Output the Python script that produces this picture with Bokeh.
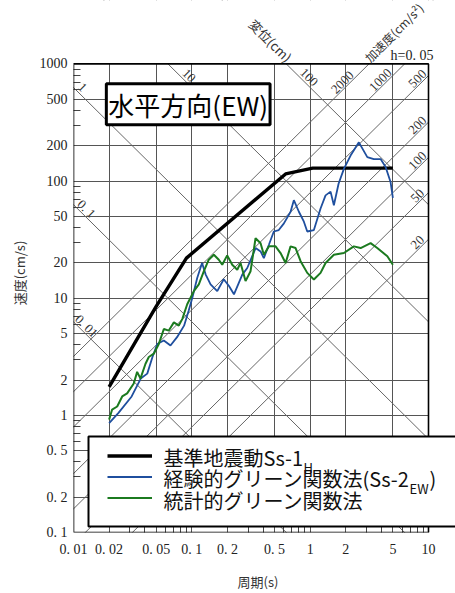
import numpy as np
from bokeh.plotting import figure
from bokeh.models import (FixedTicker, CustomJSTickFormatter, Label, Legend,
                          LegendItem, BoxAnnotation)
from bokeh.core.properties import value
from bokeh.embed import file_html
from bokeh.resources import INLINE

# ---------------- data ----------------
x_ticks = [0.01, 0.02, 0.05, 0.1, 0.2, 0.5, 1, 2, 5, 10]
y_ticks = [0.1, 0.2, 0.5, 1, 2, 5, 10, 20, 50, 100, 200, 500, 1000]
minor_mults = [3, 4, 6, 7, 8, 9]

disp_lines = [0.01, 0.1, 1, 10, 100]                 # cm
acc_lines = [20, 50, 100, 200, 500, 1000, 2000]      # cm/s2

disp_label_values = [1, 10, 100, 0.1, 0.01]
disp_label_text = ["1", "10", "100", "0. 1", "0. 01"]
disp_label_period = [0.0119, 0.0943, 0.975, 0.0129, 0.0129]

acc_label_values = [2000, 1000, 500, 200, 100, 50, 20]
acc_label_text = ["2000", "1000", "500", "200", "100", "50", "20"]
acc_label_period = [1.88, 3.94, 8.09, 8.09, 8.09, 8.09, 8.09]

period_black = [0.02, 0.05, 0.09, 0.62, 1.05, 5.0]
vel_black = [1.75, 8.5, 22.0, 115.0, 129.0, 129.0]

period_blue = [0.020, 0.024, 0.031, 0.037, 0.042, 0.0465, 0.051, 0.058, 0.066,
               0.075, 0.086, 0.094, 0.101, 0.111, 0.122, 0.131, 0.144, 0.164,
               0.186, 0.206, 0.227, 0.250, 0.267, 0.294, 0.346, 0.381, 0.406,
               0.448, 0.493, 0.543, 0.600, 0.683, 0.728, 0.803, 0.885, 0.945,
               1.075, 1.224, 1.349, 1.487, 1.586, 1.738, 1.927, 2.195, 2.58,
               3.04, 3.45, 3.94, 4.34, 4.78, 5.0]
vel_blue = [0.86, 1.05, 1.45, 2.06, 2.27, 3.15, 4.07, 4.36, 3.95,
            4.65, 5.83, 7.81, 10.1, 14.9, 20.0, 15.9, 13.1, 11.5,
            14.5, 12.7, 10.8, 13.6, 15.9, 18.1, 26.8, 25.1, 22.0,
            28.6, 37.1, 38.2, 43.5, 54.7, 68.6, 54.7, 45.0, 37.1,
            38.2, 58.3, 75.5, 81.2, 62.2, 94.9, 127, 165, 214,
            160, 154, 154, 132, 98, 72]

period_green = [0.020, 0.0212, 0.0234, 0.0258, 0.0284, 0.0323, 0.0345, 0.0368,
                0.0406, 0.0433, 0.0477, 0.0526, 0.058, 0.0639, 0.0705, 0.0776,
                0.083, 0.0914, 0.0975, 0.104, 0.1146, 0.1264, 0.139, 0.1535,
                0.169, 0.1807, 0.199, 0.2195, 0.242, 0.258, 0.2844, 0.3135,
                0.3455, 0.381, 0.406, 0.448, 0.51, 0.562, 0.62, 0.683, 0.753,
                0.83, 0.945, 1.075, 1.224, 1.349, 1.586, 1.927, 2.34, 2.67,
                3.24, 3.69, 4.49, 5.0]
vel_green = [0.92, 1.12, 1.19, 1.45, 1.54, 1.87, 2.35, 2.06,
             2.76, 3.15, 3.36, 4.07, 5.46, 5.29, 6.22, 5.83,
             6.63, 8.88, 10.1, 11.5, 13.1, 17.0, 21.3, 23.5,
             21.3, 19.3, 23.2, 19.3, 17.5, 20.0, 14.0, 17.0,
             32.5, 29.5, 23.5, 27.7, 27.7, 24.3, 20.0, 27.7, 26.8,
             20.7, 16.45, 14.45, 16.45, 20.0, 23.5, 24.3, 27.7, 26.8,
             29.5, 26.8, 22.8, 19.3]

# ---------------- layout constants (pixels) ----------------
W, H = 455, 593
BOX_LEFT, BOX_TOP = 73, 64           # plot box inside the canvas
BOX_W, BOX_H = 355, 473
PAD_RIGHT = W - BOX_LEFT - BOX_W
PAD_BOTTOM = H - BOX_TOP - BOX_H

x_lo, x_hi = 0.01, 10.0
y_lo, y_hi = 0.1, 1000.0
x_dec = np.log10(x_hi / x_lo)
y_dec = np.log10(y_hi / y_lo)
x_max = x_hi * 10 ** (x_dec * PAD_RIGHT / BOX_W)
y_max = y_hi * 10 ** (y_dec * BOX_TOP / BOX_H)

SERIF = "Liberation Serif"
CJK = "Noto Sans CJK JP"
TWO_PI = 2 * np.pi

p = figure(width=W, height=H, x_axis_type="log", y_axis_type="log",
           x_range=(x_lo, x_max), y_range=(y_lo, y_max),
           output_backend="svg", toolbar_location=None,
           min_border_left=BOX_LEFT, min_border_right=0,
           min_border_top=0, min_border_bottom=PAD_BOTTOM)
p.background_fill_color = "white"
p.border_fill_color = "white"
p.outline_line_color = None

x_minor = [m * d for d in [0.01, 0.1, 1] for m in minor_mults]
y_minor = [m * d for d in [0.1, 1, 10, 100] for m in minor_mults]

fmt = CustomJSTickFormatter(code="""
const s = tick.toString();
return tick < 1 ? s.replace('.', '. ') : s;
""")

for ax, ticks, minor in ((p.xaxis[0], x_ticks, x_minor), (p.yaxis[0], y_ticks, y_minor)):
    ax.ticker = FixedTicker(ticks=ticks, minor_ticks=minor)
    ax.formatter = fmt
    ax.axis_line_color = None
    ax.major_tick_in = 0
    ax.major_tick_out = 0
    ax.minor_tick_in = 7
    ax.minor_tick_out = 0
    ax.minor_tick_line_color = "#444444"
    ax.major_label_text_font = SERIF
    ax.major_label_text_font_size = "14px"
    ax.major_label_text_color = "#222222"
    ax.axis_label_text_font = CJK
    ax.axis_label_text_font_size = "13px"
    ax.axis_label_text_font_style = "normal"
    ax.axis_label_text_color = "#333333"

p.xaxis.axis_label = "周期(s)\u3000"
p.xaxis.major_label_standoff = 9
p.xaxis.axis_label_standoff = 12
p.yaxis.axis_label = "速度(cm/s)\u3000"
p.yaxis.major_label_standoff = 6
p.yaxis.axis_label_standoff = 8

p.xgrid.ticker = FixedTicker(ticks=x_ticks)
p.ygrid.ticker = FixedTicker(ticks=y_ticks)
for g in (p.xgrid[0], p.ygrid[0]):
    g.grid_line_color = "#555555"
    g.grid_line_width = 1

# ---------------- tripartite diagonal grid ----------------
t_end = np.array([0.001, 100.0])
p.multi_line(xs=[list(t_end) for _ in disp_lines],
             ys=[list(TWO_PI * d / t_end) for d in disp_lines],
             line_color="#666666", line_width=1)
p.multi_line(xs=[list(t_end) for _ in acc_lines],
             ys=[list(a * t_end / TWO_PI) for a in acc_lines],
             line_color="#666666", line_width=1)

dl_y = [TWO_PI * d / t * 1.19 for d, t in zip(disp_label_values, disp_label_period)]
p.text(x=disp_label_period, y=dl_y, text=disp_label_text, angle=-np.pi / 4,
       text_align="center", text_baseline="middle",
       text_font=value(SERIF), text_font_size="13px", text_color="#333333")

al_y = [a * t / TWO_PI * 1.16 for a, t in zip(acc_label_values, acc_label_period)]
p.text(x=acc_label_period, y=al_y, text=acc_label_text, angle=np.pi / 4,
       text_align="center", text_baseline="middle",
       text_font=value(SERIF), text_font_size="13px", text_color="#333333")

# ---------------- spectra ----------------
r_black = p.line(period_black, vel_black, line_color="black", line_width=3.4)
r_blue = p.line(period_blue, vel_blue, line_color="#1f4f9e", line_width=1.8)
r_green = p.line(period_green, vel_green, line_color="#1b7a1f", line_width=2)

# ---------------- masks outside the plot box + box outline ----------------
p.add_layout(BoxAnnotation(left=x_hi, fill_color="white", fill_alpha=1,
                           line_color=None, level="annotation"))
p.add_layout(BoxAnnotation(bottom=y_hi, fill_color="white", fill_alpha=1,
                           line_color=None, level="annotation"))
p.add_layout(BoxAnnotation(left=x_lo, right=x_hi, bottom=y_lo, top=y_hi,
                           fill_alpha=0, line_color="black", line_alpha=1,
                           line_width=1.6, level="annotation"))

# ---------------- legend ----------------
p.add_layout(BoxAnnotation(left=15, right=420, bottom=6, top=96,
                           left_units="screen", right_units="screen",
                           bottom_units="screen", top_units="screen",
                           fill_color="white", fill_alpha=1,
                           line_color="black", line_alpha=1, line_width=2,
                           level="annotation"))
legend = Legend(items=[
    LegendItem(label=" ", renderers=[r_black]),
    LegendItem(label=" ", renderers=[r_blue]),
    LegendItem(label=" ", renderers=[r_green]),
], location=(34, 24), level="overlay")
legend.border_line_color = None
legend.background_fill_alpha = 0
legend.label_text_font_size = "1px"
legend.glyph_width = 45
legend.glyph_height = 21
legend.label_height = 21
legend.label_standoff = 0
legend.padding = 0
legend.spacing = 0
legend.margin = 0
p.add_layout(legend)

legend_texts = [("基準地震動Ss-1", 90, 75, "20px"),
                ("H", 230, 65, "13px"),
                ("経験的グリーン関数法(Ss-2", 90, 54, "20px"),
                ("EW", 336, 44, "13px"),
                (")", 356, 54, "20px"),
                ("統計的グリーン関数法", 90, 32, "20px")]
for txt, sx, sy, fs in legend_texts:
    p.add_layout(Label(x=sx, y=sy, x_units="screen", y_units="screen", text=txt,
                       text_font=CJK, text_font_size=fs, text_color="#111111",
                       text_baseline="middle", level="overlay"))

# ---------------- title box ----------------
p.add_layout(Label(x=114.7, y=428.3, x_units="screen", y_units="screen",
                   text="水平方向(EW)", text_font=CJK, text_font_size="26px",
                   text_align="center", text_baseline="middle",
                   text_color="black", background_fill_color="white",
                   border_line_color="black", border_line_width=3, padding=2,
                   level="overlay"))

# ---------------- annotations above the box ----------------
p.add_layout(Label(x=197, y=492, x_units="screen", y_units="screen",
                   text="変位(cm)", text_font=CJK, text_font_size="13px",
                   angle=-np.pi / 4, text_align="center", text_baseline="middle",
                   text_color="#333333", level="overlay"))
p.add_layout(Label(x=293, y=473, x_units="screen", y_units="screen",
                   text="加速度(cm/s²)", text_font=CJK, text_font_size="12px",
                   angle=np.pi / 4, text_align="left", text_baseline="middle",
                   text_color="#333333", level="overlay"))
p.add_layout(Label(x=360, y=477, x_units="screen", y_units="screen",
                   text="h=0. 05", text_font=SERIF, text_font_size="14px",
                   text_align="right", text_baseline="middle",
                   text_color="#222222", level="overlay"))

open("out.html", "w").write(file_html(p, INLINE))
